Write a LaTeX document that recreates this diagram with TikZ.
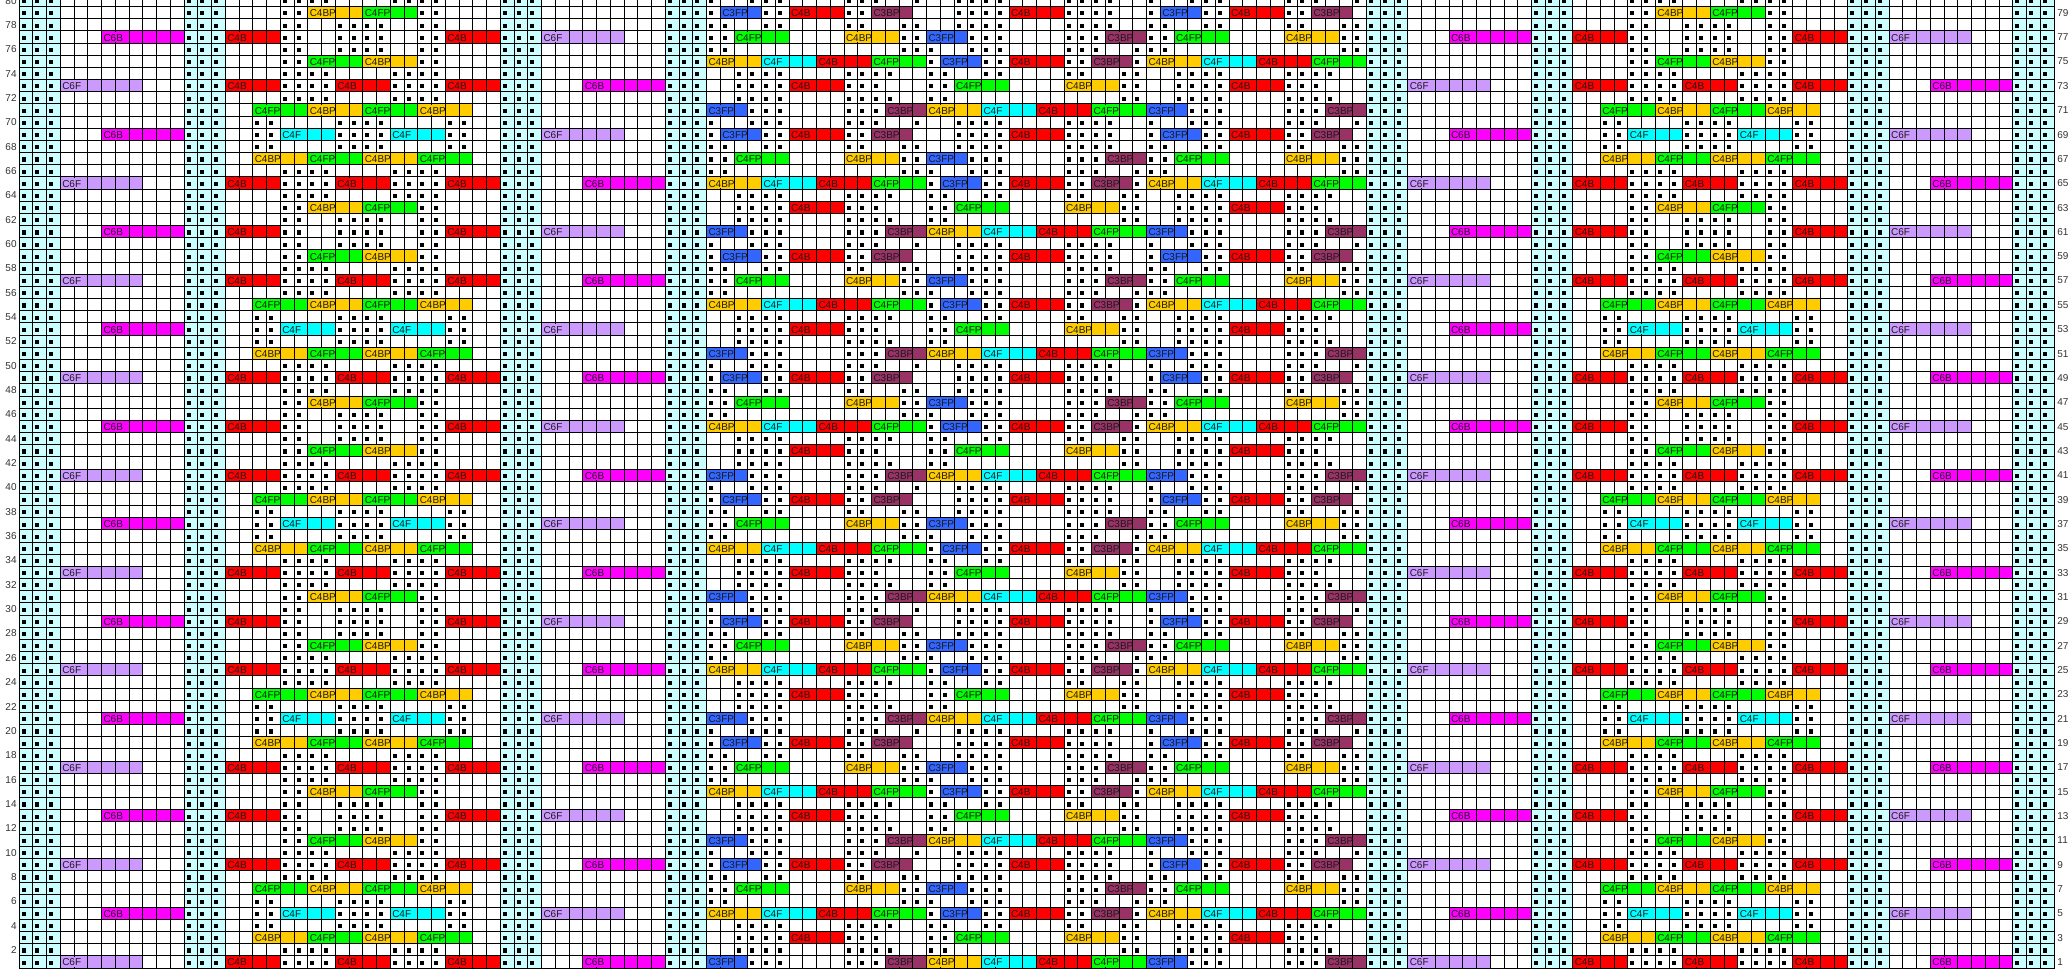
\documentclass[tikz,border=0pt]{standalone}
\usepackage{fontspec}
\setmainfont{Liberation Sans}
\definecolor{C6F}{HTML}{CC99FF}
\definecolor{C6B}{HTML}{FF00FF}
\definecolor{C4B}{HTML}{FF0000}
\definecolor{C4F}{HTML}{00FFFF}
\definecolor{C4FP}{HTML}{00FF00}
\definecolor{C4BP}{HTML}{FFCC00}
\definecolor{C3FP}{HTML}{3366FF}
\definecolor{C3BP}{HTML}{993366}
\definecolor{cyanbg}{HTML}{CCFFFF}
\tikzset{
  gridline/.style={line width=0.5pt,black,line cap=rect},
  lbl/.style={anchor=west,inner sep=0pt,font=\fontsize{5pt}{5pt}\selectfont,text=black!90},
  rowlbl/.style={inner sep=0pt,font=\fontsize{5pt}{5pt}\selectfont,text=black!80},
  pinsq/.style={fill=black}
}
\def\pass{1}
% square (pin) in row #1, column #2
\newcommand\sq[2]{\ifnum\pass=1 \fill[pinsq] ({19+13.75*(#2)+2.6},{968-12.17*(#1)+4.8}) rectangle ++(4.1,4.1);\fi}
% several squares: row #1, offset #2, list #3
\newcommand\sqs[3]{\ifnum\pass=1 \foreach \cc in {#3}{\sq{#1}{#2+\cc}}\fi}
% connector bar: row #1, column #2, length #3, type #4
\newcommand\cb[4]{%
  \pgfmathsetmacro\cbx{19+13.75*(#2)}%
  \pgfmathsetmacro\cby{968-12.17*(#1)}%
  \ifnum\pass=1
    \fill[#4] (\cbx,\cby) rectangle ++({13.75*#3},12.17);%
  \else
    \fill[#4] ({\cbx+13.75-1.4},{\cby+0.7}) rectangle ++(2.8,10.77);%
    \node[lbl] at ({\cbx+1.6},{\cby+6.7}) {#4};%
  \fi
}
% side block (50 columns), offset #1, row #2
\newcommand\Lrow[2]{%
  \ifnum\kc=5 \cb{#2}{#1+6}{6}{C6B}\cb{#2}{#1+38}{6}{C6F}\fi
  \ifnum\kc=1 \cb{#2}{#1+3}{6}{C6F}\cb{#2}{#1+41}{6}{C6B}\fi
  \ifcase\ka
    \sqs{#2}{#1}{19,20,21,22,27,28,29,30}%0
  \or
    \cb{#2}{#1+15}{4}{C4B}\cb{#2}{#1+23}{4}{C4B}\cb{#2}{#1+31}{4}{C4B}\sqs{#2}{#1}{19,20,21,22,27,28,29,30}%1
  \or
    \sqs{#2}{#1}{19,20,21,22,27,28,29,30}%2
  \or
    \cb{#2}{#1+17}{4}{C4BP}\cb{#2}{#1+21}{4}{C4FP}\cb{#2}{#1+25}{4}{C4BP}\cb{#2}{#1+29}{4}{C4FP}%3
  \or
    \sqs{#2}{#1}{17,18,23,24,25,26,31,32}%4
  \or
    \sqs{#2}{#1}{17,18,23,24,25,26,31,32}\cb{#2}{#1+19}{4}{C4F}\cb{#2}{#1+27}{4}{C4F}%5
  \or
    \sqs{#2}{#1}{17,18,23,24,25,26,31,32}%6
  \or
    \cb{#2}{#1+17}{4}{C4FP}\cb{#2}{#1+21}{4}{C4BP}\cb{#2}{#1+25}{4}{C4FP}\cb{#2}{#1+29}{4}{C4BP}%7
  \or
    \sqs{#2}{#1}{19,20,21,22,27,28,29,30}%8
  \or
    \cb{#2}{#1+15}{4}{C4B}\cb{#2}{#1+23}{4}{C4B}\cb{#2}{#1+31}{4}{C4B}\sqs{#2}{#1}{19,20,21,22,27,28,29,30}%9
  \or
    \sqs{#2}{#1}{19,20,21,22,27,28,29,30}%10
  \or
    \sqs{#2}{#1}{19,20,29,30}\cb{#2}{#1+21}{4}{C4FP}\cb{#2}{#1+25}{4}{C4BP}%11
  \or
    \sqs{#2}{#1}{19,20,23,24,25,26,29,30}%12
  \or
    \cb{#2}{#1+15}{4}{C4B}\cb{#2}{#1+31}{4}{C4B}\sqs{#2}{#1}{19,20,23,24,25,26,29,30}%13
  \or
    \sqs{#2}{#1}{19,20,23,24,25,26,29,30}%14
  \or
    \sqs{#2}{#1}{19,20,29,30}\cb{#2}{#1+21}{4}{C4BP}\cb{#2}{#1+25}{4}{C4FP}%15
  \fi
}
% middle block, row #1
\newcommand\Mrow[1]{%
  \ifcase\kb
    \sqs{#1}{0}{50,53,54,55,60,61,62,65,68,69,70,71,76,77,78,79,82,85,86,87,92,93,94,97}%0
  \or
    \cb{#1}{50}{3}{C3FP}\cb{#1}{63}{3}{C3BP}\cb{#1}{66}{4}{C4BP}\cb{#1}{70}{4}{C4F}%
    \cb{#1}{74}{4}{C4B}\cb{#1}{78}{4}{C4FP}\cb{#1}{82}{3}{C3FP}\cb{#1}{95}{3}{C3BP}%
    \sqs{#1}{0}{53,54,55,60,61,62,85,86,87,92,93,94}%1
  \or
    \sqs{#1}{0}{52,53,54,55,60,61,62,63,66,67,80,81,84,85,86,87,92,93,94,95}%2
  \or
    \cb{#1}{56}{4}{C4B}\cb{#1}{68}{4}{C4FP}\cb{#1}{76}{4}{C4BP}\cb{#1}{88}{4}{C4B}%
    \sqs{#1}{0}{52,53,54,55,60,61,62,66,67,80,81,84,85,86,87,92,93,94}%3
  \or
    \sqs{#1}{0}{52,53,54,55,60,61,62,63,66,67,70,71,76,77,80,81,84,85,86,87,92,93,94,95}%4
  \or
    \cb{#1}{50}{4}{C4BP}\cb{#1}{54}{4}{C4F}\cb{#1}{58}{4}{C4B}\cb{#1}{62}{4}{C4FP}%
    \cb{#1}{67}{3}{C3FP}\cb{#1}{72}{4}{C4B}\cb{#1}{78}{3}{C3BP}%
    \cb{#1}{82}{4}{C4BP}\cb{#1}{86}{4}{C4F}\cb{#1}{90}{4}{C4B}\cb{#1}{94}{4}{C4FP}%
    \sqs{#1}{0}{66,70,71,76,77,81}%5
  \or
    \sqs{#1}{0}{50,51,64,65,66,69,70,71,76,77,78,81,82,83,96,97}%6
  \or
    \cb{#1}{52}{4}{C4FP}\cb{#1}{60}{4}{C4BP}\cb{#1}{66}{3}{C3FP}\cb{#1}{79}{3}{C3BP}%
    \cb{#1}{84}{4}{C4FP}\cb{#1}{92}{4}{C4BP}%
    \sqs{#1}{0}{50,51,64,65,69,70,71,76,77,78,82,83,96,97}%7
  \or
    \sqs{#1}{0}{50,51,54,55,60,61,64,65,68,69,70,71,76,77,78,79,82,83,86,87,92,93,96,97}%8
  \or
    \cb{#1}{51}{3}{C3FP}\cb{#1}{56}{4}{C4B}\cb{#1}{62}{3}{C3BP}\cb{#1}{72}{4}{C4B}%
    \cb{#1}{83}{3}{C3FP}\cb{#1}{88}{4}{C4B}\cb{#1}{94}{3}{C3BP}%
    \sqs{#1}{0}{50,54,55,60,61,68,69,70,71,76,77,78,79,82,86,87,92,93}%9
  \fi
}
\newcommand\allrows{%
  \foreach \r in {1,...,80}{%
    \pgfmathtruncatemacro\ka{mod(\r,16)}%
    \pgfmathtruncatemacro\kb{mod(\r,10)}%
    \pgfmathtruncatemacro\kc{mod(\r,8)}%
    \Lrow{0}{\r}\Lrow{98}{\r}\Mrow{\r}%
  }%
}
\begin{document}
\begin{tikzpicture}[x=0.5pt,y=-0.5pt]
\useasboundingbox (0,0) rectangle (2070,972);
\clip (0,0) rectangle (2070,972);
\fill[white] (0,0) rectangle (2070,972);
\foreach \g in {0,12,35,47,98,110,133,145}{
  \fill[cyanbg] ({19+13.75*\g},-10) rectangle ({19+13.75*(\g+3)},968);
}
% pins in the cyan columns
\foreach \g in {0,12,35,47,98,110,133,145}{
  \foreach \r in {1,...,80}{\sqs{\r}{\g}{0,1,2}}
}
% bars and pins
\def\pass{1}
\allrows
% grid
\foreach \i in {0,...,148}{\draw[gridline] ({19+13.75*\i},-10) -- ({19+13.75*\i},968);}
\foreach \j in {0,...,80}{\draw[gridline] (19,{968-12.17*\j}) -- (2054,{968-12.17*\j});}
% labels on bars
\def\pass{2}
\allrows
% row numbers
\foreach \r in {2,4,...,80}{\node[rowlbl,anchor=east] (nl\r) at (17,{968-12.17*\r+6.3}) {\r};}
\foreach \r in {1,3,...,79}{\node[rowlbl,anchor=west] (nr\r) at (2057,{968-12.17*\r+6.3}) {\r};}
\end{tikzpicture}
\end{document}
